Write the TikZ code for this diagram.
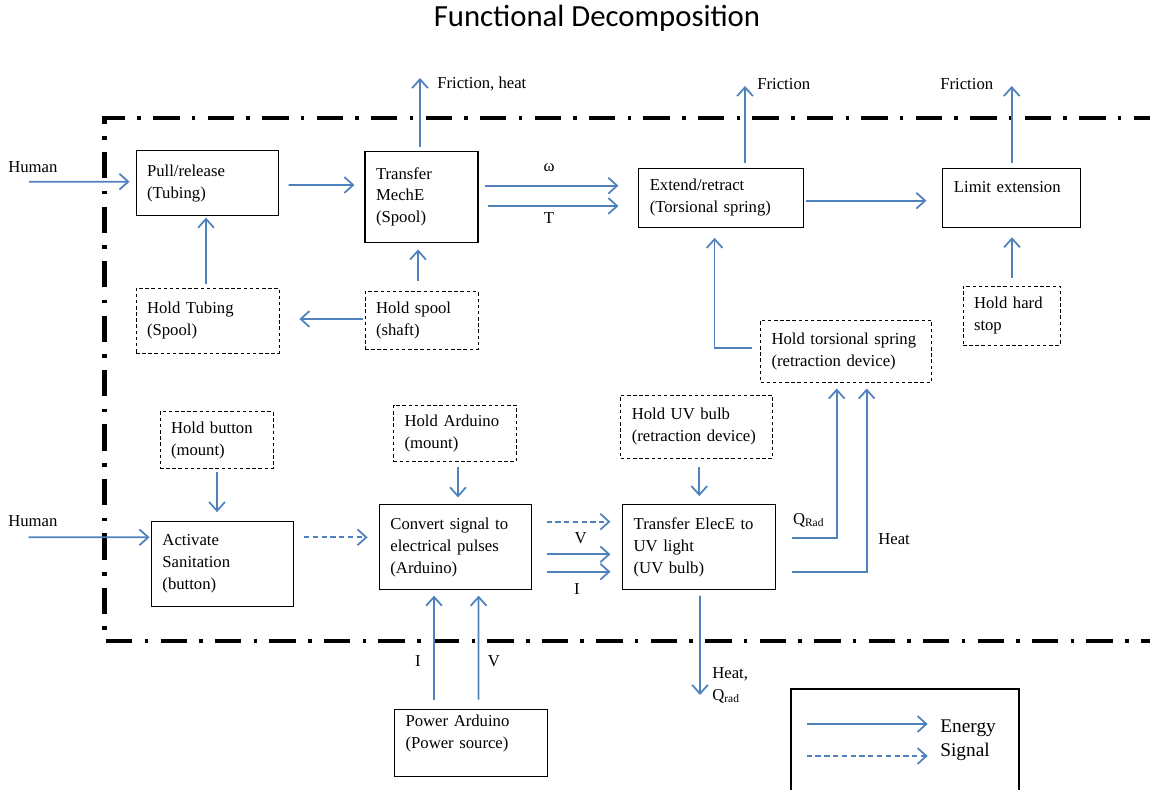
\documentclass[tikz,border=0pt]{standalone}
\usepackage{fontspec}
\setmainfont{Liberation Serif}
\newfontfamily\titlefont{Carlito}
\usetikzlibrary{arrows.meta,calc}
\definecolor{flowblue}{RGB}{79,129,189}
\newcommand{\smallsub}[1]{\raisebox{-0.3ex}{\fontsize{6.5}{7}\selectfont #1}}
\tikzstyle{func}=[draw, line width=0.6pt, align=left, inner xsep=0.22cm, inner ysep=2pt, font=\fontsize{9.5}{12.5}\selectfont]
\tikzstyle{hold}=[func, line width=0.45pt, dash pattern=on 2pt off 1.5pt]
\tikzstyle{energy}=[draw=flowblue, line width=1pt, -{Straight Barb[length=5pt,width=9pt]}]
\tikzstyle{signal}=[energy, dash pattern=on 3pt off 2pt]
\tikzstyle{lbl}=[inner sep=0pt, font=\fontsize{9.5}{12.5}\selectfont]
\tikzstyle{boundary}=[line width=2.5pt, dash pattern=on 15pt off 7pt on 2pt off 7pt]
\begin{document}
\begin{tikzpicture}[x=0.02cm, y=-0.02cm]
	\useasboundingbox (0,0) rectangle (1150,790);
	\node[font=\titlefont\fontsize{17.5}{21}\selectfont] (title) at (597,18) {Functional Decomposition};

	% system boundary
	\draw[boundary] (1160,118.3) -- (104.5,118.3) -- (104.5,640.7) -- (1160,640.7);

	% functions
	\node[func, minimum height=1.29cm, text width=2.41cm] (pull) at (207.3,183.2) {Pull/release\\(Tubing)};
	\node[func, minimum height=1.83cm, text width=1.82cm] (mech) at (421.5,196.9) {Transfer\\MechE\\(Spool)};
	\node[func, minimum height=1.18cm, text width=2.85cm] (extend) at (721,197.8) {Extend/retract\\(Torsional spring)};
	\node[func, minimum height=1.18cm, text width=2.31cm] (limit) at (1011.7,197.8) {Limit extension\\\mbox{}};
	\node[func, minimum height=1.69cm, text width=2.41cm] (activate) at (222.7,564.2) {Activate\\Sanitation\\(button)};
	\node[func, minimum height=1.69cm, text width=2.60cm] (convert) at (455.4,547.2) {Convert signal to\\electrical pulses\\(Arduino)};
	\node[func, minimum height=1.69cm, text width=2.61cm] (elece) at (698.9,547.2) {Transfer ElecE to\\UV light\\(UV bulb)};
	\node[func, minimum height=1.35cm, text width=2.61cm] (power) at (470.8,742.9) {Power Arduino\\(Power source)\\\mbox{}};

	% supports
	\node[hold, minimum height=1.30cm, text width=2.42cm] (holdtube) at (207.5,320.5) {Hold Tubing\\(Spool)};
	\node[hold, minimum height=1.15cm, text width=1.82cm] (holdspool) at (421.5,320.3) {Hold spool\\(shaft)};
	\node[hold, minimum height=1.25cm, text width=2.98cm] (holdspring) at (846,351.3) {Hold torsional spring\\(retraction device)};
	\node[hold, minimum height=1.18cm, text width=1.50cm] (holdstop) at (1011.5,315.5) {Hold hard\\stop};
	\node[hold, minimum height=1.14cm, text width=1.82cm] (holdbutton) at (216.5,440.2) {Hold button\\(mount)};
	\node[hold, minimum height=1.13cm, text width=2.01cm] (holdarduino) at (454.8,433.3) {Hold Arduino\\(mount)};
	\node[hold, minimum height=1.27cm, text width=2.59cm] (holdbulb) at (696.5,426.7) {Hold UV bulb\\(retraction device)};

	% flows, top row
	\coordinate (hum1) at (29,181.7);
	\node[lbl, anchor=west] (humtop) at (8,166.7) {Human};
	\draw[energy] (hum1) -- ($(pull.west)+(-6,-1.5)$);
	\draw[energy] ($(pull.east)+(9.5,1.8)$) -- ($(mech.west)+(-10,-11.9)$);
	\coordinate (fric1) at (420,78);
	\draw[energy] ($(mech.north)+(-1.5,-4)$) -- (fric1);
	\node[lbl, anchor=west] (fricheat) at (437,84) {Friction, heat};
	\draw[energy] ($(mech.east)+(6,-11.2)$) -- ($(extend.west)+(-19.8,-12.1)$);
	\draw[energy] ($(mech.east)+(9,9.1)$) -- ($(extend.west)+(-19.8,8.2)$);
	\node[lbl] (omega) at (549,168) {ω};
	\node[lbl] (torque) at (549,218) {T};
	\draw[energy] ($(extend.east)+(2.3,2.9)$) -- ($(limit.west)+(-16,2.9)$);
	\coordinate (fric2) at (745,86);
	\draw[energy] ($(extend.north)+(24,-5)$) -- (fric2);
	\node[lbl, anchor=west] (fricmid) at (757,84) {Friction};
	\coordinate (fric3) at (1011.7,86);
	\draw[energy] ($(limit.north)+(0,-5)$) -- (fric3);
	\node[lbl, anchor=west] (fricright) at (940,84) {Friction};

	\draw[energy] ($(holdtube.north)+(-1.5,-4)$) -- ($(pull.south)+(-1.3,1.7)$);
	\draw[energy] ($(holdspool.north)+(-3.5,-9.7)$) -- ($(mech.south)+(-3.5,6.3)$);
	\draw[energy] ($(holdspool.west)+(-2,-1.3)$) -- ($(holdtube.east)+(20,-1.5)$);
	\draw[energy] ($(holdspring.west)+(-7.7,-3)$) -| ($(extend.south)+(-6.4,10)$);
	\draw[energy] ($(holdstop.north)+(0.5,-8)$) -- ($(limit.south)+(0.3,9.4)$);

	% flows, bottom row
	\draw[energy] ($(holdbutton.south)+(0.5,3)$) -- ($(activate.north)+(-5.7,-9.3)$);
	\coordinate (hum2) at (28.6,537.3);
	\node[lbl, anchor=west] (humbot) at (8,521) {Human};
	\draw[energy] (hum2) -- ($(activate.west)+(-1.4,-26.9)$);
	\draw[signal] ($(activate.east)+(9.6,-26.9)$) -- ($(convert.west)+(-11.3,-9.9)$);
	\draw[energy] ($(holdarduino.south)+(3.2,5)$) -- ($(convert.north)+(2.6,-7)$);
	\draw[signal] ($(convert.east)+(14.6,-25.5)$) -- ($(elece.west)+(-11.7,-25.5)$);
	\draw[energy] ($(convert.east)+(14.6,7.1)$) -- ($(elece.west)+(-11.7,7.1)$);
	\draw[energy] ($(convert.east)+(14.6,24.5)$) -- ($(elece.west)+(-11.7,24.5)$);
	\node[lbl] (vmid) at (580.7,538.3) {V};
	\node[lbl] (imid) at (577,589.3) {I};
	\draw[energy] ($(holdbulb.south)+(2.8,7.7)$) -- ($(elece.north)+(0.4,-8.3)$);
	\coordinate (heatout) at (700,695);
	\draw[energy] ($(elece.south)+(1.1,5.7)$) -- (heatout);
	\node[lbl, anchor=west, align=left] (heatlbl) at (712,685) {Heat,\\Q\smallsub{rad}};
	\draw[energy] ($(elece.east)+(16,-8.9)$) -| ($(holdspring.south)+(-9.3,5.6)$);
	\draw[energy] ($(elece.east)+(16,24.5)$) -| ($(holdspring.south)+(20.7,5.6)$);
	\node[lbl, anchor=west] (qrad) at (792.7,520) {Q\smallsub{Rad}};
	\node[lbl, anchor=west] (heat) at (878,539) {Heat};
	\draw[energy] ($(power.north)+(-36.8,-9)$) -- ($(convert.south)+(-21.4,5.7)$);
	\draw[energy] ($(power.north)+(7.8,-9)$) -- ($(convert.south)+(23.2,5.7)$);
	\node[lbl] (ipow) at (418,660.7) {I};
	\node[lbl] (vpow) at (494,660.7) {V};

	% legend
	\draw[line width=1.1pt] (790.7,689) rectangle (1019,800);
	\coordinate (ena) at (806.7,724);
	\coordinate (enb) at (927.7,724);
	\coordinate (sga) at (806.7,756);
	\coordinate (sgb) at (927.7,756);
	\draw[energy] (ena) -- (enb);
	\draw[signal] (sga) -- (sgb);
	\node[lbl, anchor=west, font=\fontsize{11}{13}\selectfont] (energylbl) at (940,728) {Energy};
	\node[lbl, anchor=west, font=\fontsize{11}{13}\selectfont] (signallbl) at (940,752) {Signal};
\end{tikzpicture}
\end{document}
